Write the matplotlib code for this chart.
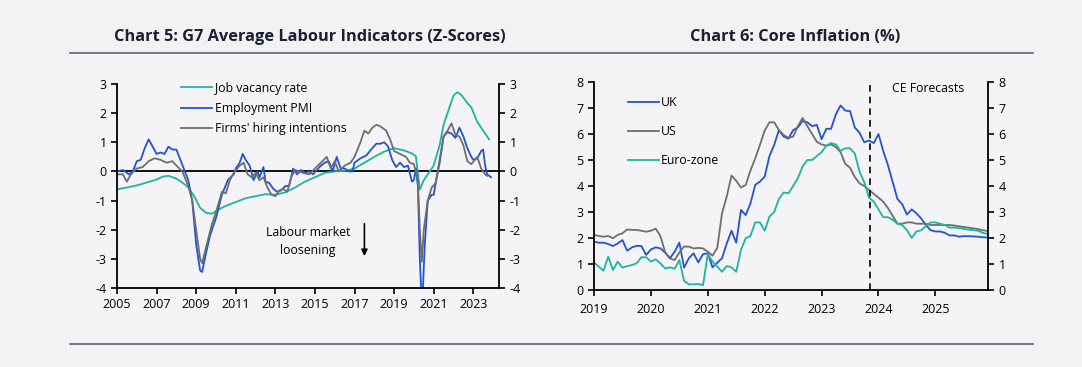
import matplotlib
matplotlib.use("Agg")
import matplotlib.pyplot as plt
from matplotlib.lines import Line2D
import numpy as np

plt.rcParams["font.family"] = ["Open Sans", "DejaVu Sans"]

TEAL = "#1db5a0"
BLUE = "#2452d0"
GREY = "#6e6e6e"
TITLE_COL = "#1b1f33"
RULE_COL = "#6c6c82"

# ---- Chart 5: G7 labour indicators (z-scores), decimal years ----
vac_t = [2005.0, 2005.5, 2006.0, 2006.5, 2007.0, 2007.3, 2007.6, 2008.0, 2008.3, 2008.6,
         2008.9, 2009.2, 2009.5, 2009.8, 2010.1, 2010.5, 2011.0, 2011.5, 2012.0, 2012.5,
         2013.0, 2013.5, 2014.0, 2014.5, 2015.0, 2015.5, 2016.0, 2016.5, 2017.0, 2017.5,
         2018.0, 2018.5, 2019.0, 2019.5, 2019.9, 2020.1, 2020.3, 2020.5, 2020.8, 2021.0,
         2021.3, 2021.5, 2021.8, 2022.0, 2022.2, 2022.4, 2022.7, 2022.9, 2023.2, 2023.4,
         2023.6, 2023.8]
vac_v = [-0.62, -0.55, -0.48, -0.38, -0.28, -0.18, -0.15, -0.25, -0.38, -0.55,
         -0.85, -1.25, -1.42, -1.45, -1.32, -1.18, -1.05, -0.92, -0.85, -0.78,
         -0.8, -0.72, -0.55, -0.35, -0.2, -0.05, 0.0, 0.02, 0.1, 0.3,
         0.5, 0.68, 0.8, 0.72, 0.62, 0.52, -0.62, -0.3, 0.0, 0.2,
         0.9, 1.6, 2.2, 2.6, 2.72, 2.62, 2.35, 2.2, 1.7, 1.5,
         1.3, 1.1]

pmi_t = [2005.0, 2005.3, 2005.6, 2005.8, 2006.0, 2006.2, 2006.4, 2006.6, 2006.8, 2007.0,
         2007.2, 2007.4, 2007.6, 2007.8, 2008.0, 2008.2, 2008.4, 2008.6, 2008.8, 2009.0,
         2009.2, 2009.3, 2009.5, 2009.7, 2010.0, 2010.3, 2010.6, 2010.9, 2011.0, 2011.2,
         2011.35, 2011.5, 2011.7, 2011.9, 2012.1, 2012.2, 2012.4, 2012.5, 2012.7, 2012.9,
         2013.1, 2013.3, 2013.5, 2013.7, 2013.9, 2014.1, 2014.3, 2014.5, 2014.7, 2014.9,
         2015.1, 2015.3, 2015.5, 2015.7, 2015.9, 2016.1, 2016.3, 2016.5, 2016.7, 2016.9,
         2017.0, 2017.3, 2017.6, 2017.9, 2018.1, 2018.3, 2018.5, 2018.7, 2018.9, 2019.1,
         2019.3, 2019.5, 2019.7, 2019.9, 2020.0, 2020.1, 2020.2, 2020.3, 2020.37, 2020.45,
         2020.55, 2020.7, 2020.9, 2021.0, 2021.1, 2021.3, 2021.5, 2021.7, 2021.9, 2022.1,
         2022.3, 2022.5, 2022.7, 2022.9, 2023.0, 2023.2, 2023.4, 2023.5, 2023.6, 2023.7,
         2023.8, 2023.9]
pmi_v = [0.0, 0.05, -0.1, 0.0, 0.35, 0.4, 0.8, 1.1, 0.85, 0.6,
         0.65, 0.6, 0.85, 0.75, 0.75, 0.4, 0.05, -0.3, -1.0, -2.5,
         -3.4, -3.45, -2.8, -2.2, -1.6, -0.8, -0.3, -0.1, 0.1, 0.3,
         0.6, 0.4, 0.2, -0.3, 0.0, -0.2, 0.15, -0.35, -0.4, -0.6,
         -0.7, -0.65, -0.5, -0.5, 0.1, -0.1, 0.05, -0.05, 0.0, -0.1,
         0.05, 0.2, 0.3, 0.35, 0.0, 0.5, 0.1, 0.1, 0.0, 0.0,
         0.3, 0.45, 0.55, 0.8, 0.95, 0.95, 1.0, 0.85, 0.4, 0.15,
         0.3, 0.15, 0.2, -0.35, -0.3, 0.1, -0.5, -3.0, -4.1, -4.1,
         -2.5, -1.0, -0.8, -0.8, -0.4, 0.3, 1.2, 1.35, 1.3, 1.15,
         1.5, 1.2, 0.8, 0.5, 0.4, 0.45, 0.7, 0.75, 0.2, -0.1,
         -0.15, -0.2]

hire_t = [2005.0, 2005.3, 2005.5, 2005.7, 2006.0, 2006.3, 2006.6, 2006.9, 2007.2, 2007.5,
          2007.8, 2008.0, 2008.3, 2008.6, 2008.8, 2009.0, 2009.2, 2009.3, 2009.5, 2009.8,
          2010.0, 2010.3, 2010.5, 2010.7, 2010.9, 2011.2, 2011.4, 2011.6, 2011.8, 2012.0,
          2012.2, 2012.4, 2012.6, 2012.8, 2013.0, 2013.2, 2013.4, 2013.6, 2013.8, 2014.0,
          2014.2, 2014.4, 2014.7, 2015.0, 2015.3, 2015.6, 2015.8, 2016.0, 2016.2, 2016.5,
          2016.8, 2017.0, 2017.3, 2017.5, 2017.7, 2017.9, 2018.1, 2018.3, 2018.6, 2018.8,
          2019.0, 2019.3, 2019.6, 2019.8, 2020.0, 2020.2, 2020.3, 2020.4, 2020.5, 2020.7,
          2020.9, 2021.1, 2021.3, 2021.5, 2021.7, 2021.9, 2022.1, 2022.3, 2022.5, 2022.7,
          2022.9, 2023.2, 2023.4, 2023.6, 2023.7]
hire_v = [-0.1, -0.1, -0.35, -0.1, 0.1, 0.15, 0.35, 0.45, 0.4, 0.3,
          0.35, 0.2, 0.0, -0.5, -1.0, -2.0, -3.0, -3.15, -2.6, -1.8,
          -1.4, -0.7, -0.75, -0.3, -0.05, 0.2, 0.3, -0.1, -0.2, -0.05,
          -0.3, -0.2, -0.55, -0.8, -0.85, -0.65, -0.6, -0.7, -0.2, 0.05,
          0.0, -0.05, -0.1, 0.1, 0.3, 0.5, 0.1, 0.35, 0.0, 0.2,
          0.3, 0.5, 1.0, 1.4, 1.3, 1.5, 1.6, 1.55, 1.4, 1.1,
          0.7, 0.6, 0.5, 0.3, 0.25, -0.3, -2.0, -3.1, -2.0, -1.0,
          -0.55, -0.4, 0.4, 1.2, 1.4, 1.65, 1.25, 1.2, 0.9, 0.35,
          0.25, 0.5, 0.1, -0.1, -0.15]

left_years = [2005, 2007, 2009, 2011, 2013, 2015, 2017, 2019, 2021, 2023]
left_yticks = [3, 2, 1, 0, -1, -2, -3, -4]

# ---- Chart 6: core inflation (%), monthly Jan 2019 - Dec 2025 ----
uk_core = [1.86, 1.82, 1.82, 1.77, 1.69, 1.79, 1.92, 1.51, 1.64, 1.70, 1.69, 1.35,
           1.56, 1.64, 1.60, 1.44, 1.22, 1.47, 1.82, 0.86, 1.22, 1.41, 1.06, 1.38,
           1.41, 0.87, 1.05, 1.22, 1.79, 2.28, 1.82, 3.08, 2.88, 3.33, 4.04, 4.17,
           4.36, 5.15, 5.58, 6.15, 5.90, 5.82, 6.15, 6.25, 6.50, 6.45, 6.30, 6.35,
           5.80, 6.20, 6.20, 6.75, 7.10, 6.90, 6.88, 6.25, 6.05, 5.68, 5.75, 5.65,
           6.00, 5.35, 4.80, 4.15, 3.50, 3.30, 2.90, 3.10, 2.95, 2.75, 2.50, 2.30,
           2.25, 2.25, 2.20, 2.10, 2.10, 2.05, 2.07, 2.07, 2.06, 2.05, 2.03, 2.02]
us_core = [2.12, 2.08, 2.05, 2.08, 1.99, 2.12, 2.18, 2.33, 2.31, 2.31, 2.28, 2.24,
           2.28, 2.36, 2.08, 1.45, 1.22, 1.15, 1.44, 1.67, 1.67, 1.60, 1.62, 1.60,
           1.47, 1.32, 1.62, 2.95, 3.60, 4.40, 4.20, 3.94, 4.04, 4.60, 5.06, 5.58,
           6.13, 6.45, 6.45, 6.15, 5.96, 5.85, 5.90, 6.30, 6.62, 6.30, 6.00, 5.70,
           5.60, 5.55, 5.60, 5.50, 5.30, 4.85, 4.70, 4.35, 4.10, 4.00, 3.85, 3.70,
           3.55, 3.40, 3.15, 2.85, 2.55, 2.55, 2.60, 2.60, 2.55, 2.55, 2.55, 2.50,
           2.50, 2.50, 2.50, 2.50, 2.48, 2.45, 2.42, 2.40, 2.37, 2.34, 2.30, 2.27]
ez_core = [1.05, 0.90, 0.74, 1.28, 0.77, 1.09, 0.86, 0.92, 0.96, 1.03, 1.26, 1.26,
           1.09, 1.18, 1.03, 0.83, 0.87, 0.82, 1.15, 0.35, 0.22, 0.22, 0.23, 0.19,
           1.38, 1.09, 0.90, 0.70, 0.92, 0.87, 0.70, 1.54, 1.99, 2.08, 2.60, 2.60,
           2.28, 2.82, 3.00, 3.50, 3.75, 3.72, 4.00, 4.30, 4.75, 5.00, 5.00, 5.15,
           5.30, 5.55, 5.65, 5.60, 5.35, 5.45, 5.45, 5.25, 4.55, 4.15, 3.55, 3.40,
           3.10, 2.80, 2.80, 2.70, 2.55, 2.50, 2.30, 2.00, 2.25, 2.30, 2.45, 2.60,
           2.60, 2.55, 2.50, 2.40, 2.40, 2.38, 2.35, 2.32, 2.30, 2.28, 2.20, 2.15]
right_years = [2019, 2020, 2021, 2022, 2023, 2024, 2025]
right_yticks = [0, 1, 2, 3, 4, 5, 6, 7, 8]
forecast_start = 2023.85

months = 2019 + np.arange(len(uk_core)) / 12.0

W, H = 1082, 367
fig = plt.figure(figsize=(W / 100, H / 100), dpi=100)
fig.patch.set_facecolor("#f2f2f2")

# lighter panel behind the two charts, with rules top and bottom
fig.add_artist(plt.Rectangle((70 / W, 1 - 344 / H), 963 / W, 291 / H,
                             transform=fig.transFigure, facecolor="#f4f4f6",
                             edgecolor="none", zorder=-10))
for yy in (53, 344):
    fig.add_artist(Line2D([70 / W, 1033 / W], [1 - yy / H, 1 - yy / H],
                          color=RULE_COL, lw=1.3, transform=fig.transFigure, zorder=-5))

fig.text(310 / W, 1 - 37 / H, "Chart 5: G7 Average Labour Indicators (Z-Scores)",
         ha="center", va="center", fontsize=11.8, fontweight="bold", color=TITLE_COL)
fig.text(795 / W, 1 - 37 / H, "Chart 6: Core Inflation (%)",
         ha="center", va="center", fontsize=11.8, fontweight="bold", color=TITLE_COL)


def style_axes(ax):
    ax.set_facecolor("none")
    ax.spines["top"].set_visible(False)
    for s in ("left", "right", "bottom"):
        ax.spines[s].set_linewidth(1.3)
        ax.spines[s].set_color("black")
    ax.tick_params(axis="both", which="both", direction="out", length=4, width=1.2,
                   labelsize=9, pad=3.5, colors="black")
    ax.tick_params(axis="y", left=True, right=True, labelleft=True, labelright=True)


# ---- left chart ----
ax1 = fig.add_axes([117 / W, 1 - 288 / H, 382 / W, 204 / H])
style_axes(ax1)
ax1.plot(vac_t, vac_v, color=TEAL, lw=1.3, label="Job vacancy rate")
ax1.plot(pmi_t, pmi_v, color=BLUE, lw=1.3, label="Employment PMI")
ax1.plot(hire_t, hire_v, color=GREY, lw=1.3, label="Firms' hiring intentions")
ax1.axhline(0, color="black", lw=1.3, zorder=1)
ax1.set_xlim(2005, 2024.3)
ax1.set_ylim(-4, 3)
ax1.set_xticks(left_years)
ax1.set_yticks(left_yticks)
ax1.set_yticklabels([str(v) for v in left_yticks])
ax1.legend(loc="upper left", bbox_to_anchor=(0.155, 1.035), frameon=False, fontsize=8.8,
           handlelength=2.5, handletextpad=0.3, labelspacing=0.58, borderaxespad=0)
ax1.text(2014.65, -2.4, "Labour market\nloosening", ha="center", va="center",
         fontsize=8.8, linespacing=1.45)
ax1.annotate("", xy=(2017.5, -3.0), xytext=(2017.5, -1.7),
             arrowprops=dict(arrowstyle="-|>", color="black", lw=1.2, mutation_scale=9))

# ---- right chart ----
ax2 = fig.add_axes([594 / W, 1 - 290 / H, 394 / W, 208 / H])
style_axes(ax2)
ax2.plot(months, uk_core, color=BLUE, lw=1.3, label="UK")
ax2.plot(months, us_core, color=GREY, lw=1.3, label="US")
ax2.plot(months, ez_core, color=TEAL, lw=1.3, label="Euro-zone")
ax2.axvline(forecast_start, color="black", lw=1.2, ls=(0, (4, 3)))
ax2.set_xlim(2019, 2019 + 83.1 / 12)
ax2.set_ylim(0, 8)
ax2.set_xticks(right_years)
ax2.set_yticks(right_yticks)
ax2.tick_params(axis="x", pad=5.5)
ax2.legend(loc="upper left", bbox_to_anchor=(0.075, 0.955), frameon=False, fontsize=8.8,
           handlelength=2.5, handletextpad=0.15, labelspacing=1.3, borderaxespad=0)
ax2.text(0.756, 0.97, "CE Forecasts", transform=ax2.transAxes, ha="left", va="center",
         fontsize=8.8)

fig.savefig("out.png", dpi=100, facecolor=fig.get_facecolor())
